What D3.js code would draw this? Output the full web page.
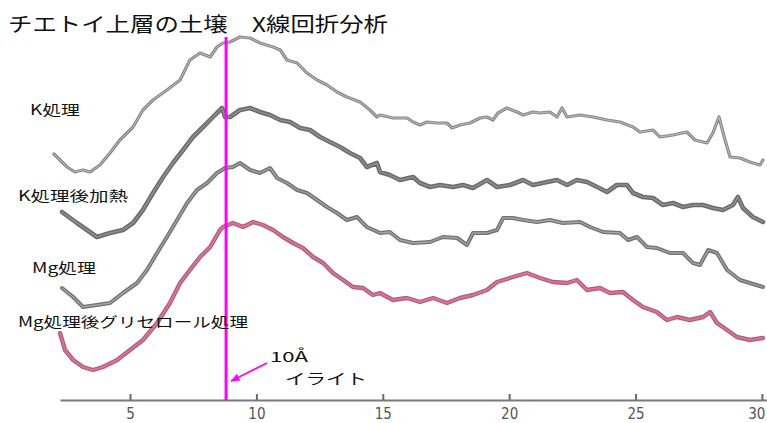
<!DOCTYPE html>
<html>
<head>
<meta charset="utf-8">
<script src="https://cdn.jsdelivr.net/npm/d3@7"></script>
<style>
  html, body { margin: 0; padding: 0; background: #fff; }
  svg { display: block; }
  .jp { font-family: "Noto Sans CJK JP", "Noto Sans", sans-serif; fill: #111; }
  .axis text { font-family: "DejaVu Sans Condensed", "Liberation Sans Narrow", "DejaVu Sans", sans-serif; font-stretch: condensed; font-size: 15px; fill: #555; }
</style>
</head>
<body>
<svg id="chart" width="767" height="423"></svg>
<script>
// X-ray diffraction patterns of the upper-layer soil, four pre-treatments.
// Each pattern: [2θ (deg, Cu Kα), intensity (arbitrary counts, stacked offset)]
const kTreated = [
  [1.99,246],[2.51,233],[2.82,228],[3.14,230],[3.42,228],[3.81,235],[4.21,247],[4.60,260],
  [5.12,273],[5.51,290],[5.91,300],[6.46,310],[6.98,320],[7.37,340],[7.77,347],[8.17,343],
  [8.44,353],[8.68,357],[8.96,358],[9.35,363],[9.75,362],[10.14,357],[10.66,353],[10.94,350],
  [11.21,340],[11.61,337],[12.00,327],[12.40,320],[12.79,315],[13.19,308],[13.58,303],[14.10,298],
  [14.49,290],[14.77,283],[14.89,285],[15.40,282],[15.96,282],[16.20,278],[16.47,275],[16.75,278],
  [17.14,277],[17.54,277],[17.74,272],[18.05,275],[18.45,277],[18.85,282],[19.12,283],[19.36,280],
  [19.56,287],[19.91,292],[20.31,288],[20.55,285],[20.94,288],[21.22,287],[21.61,288],[21.89,283],
  [22.09,292],[22.29,283],[22.80,285],[23.32,283],[23.87,280],[24.38,278],[24.90,273],[25.17,268],
  [25.69,270],[25.96,263],[26.48,265],[27.03,268],[27.35,260],[27.83,257],[28.06,267],[28.30,283],
  [28.54,260],[28.74,243],[29.13,242],[29.52,238],[29.92,235],[30.04,240]
];
const kHeated = [
  [2.31,188],[2.90,177],[3.30,170],[3.69,163],[4.21,167],[4.72,170],[5.12,177],[5.51,190],
  [5.91,207],[6.31,223],[6.70,237],[7.10,250],[7.49,263],[7.89,273],[8.28,283],[8.64,292],
  [8.76,283],[8.96,283],[9.35,290],[9.75,292],[10.14,288],[10.54,285],[10.94,280],[11.33,278],
  [11.73,272],[12.12,270],[12.52,263],[12.91,258],[13.31,253],[13.70,247],[14.10,242],[14.37,233],
  [14.77,237],[14.89,228],[15.28,225],[15.68,220],[16.20,223],[16.47,217],[16.87,213],[17.26,215],
  [17.78,213],[18.17,215],[18.57,212],[19.12,220],[19.52,213],[20.03,215],[20.55,220],[20.94,215],
  [21.50,218],[21.89,220],[22.29,215],[22.68,220],[23.08,218],[23.48,213],[23.87,208],[24.26,215],
  [24.66,215],[24.90,207],[25.29,203],[25.69,202],[26.08,195],[26.48,197],[26.88,193],[27.27,195],
  [27.67,195],[28.06,192],[28.46,190],[28.85,195],[29.05,203],[29.25,192],[29.64,183],[30.04,178]
];
const mgTreated = [
  [2.31,112],[2.75,103],[3.14,93],[3.69,95],[4.21,97],[4.72,107],[5.28,117],[5.67,130],
  [6.07,147],[6.46,163],[6.86,180],[7.26,197],[7.65,210],[8.05,217],[8.44,227],[8.76,232],
  [9.07,233],[9.35,237],[9.75,230],[10.14,227],[10.54,232],[10.82,222],[11.21,217],[11.61,210],
  [12.00,207],[12.40,200],[12.79,193],[13.19,187],[13.58,180],[13.98,183],[14.37,173],[14.89,167],
  [15.28,168],[15.68,160],[16.20,157],[16.87,158],[17.38,163],[17.94,162],[18.33,155],[18.57,167],
  [19.12,167],[19.52,170],[19.76,182],[20.15,182],[20.55,180],[21.10,178],[21.61,180],[22.13,177],
  [22.80,178],[23.20,173],[23.71,168],[24.38,167],[24.70,160],[25.06,163],[25.45,153],[25.84,152],
  [26.36,147],[26.88,147],[27.27,137],[27.55,135],[27.87,150],[28.22,147],[28.62,130],[29.13,120],
  [29.52,117],[30.04,113]
];
const mgGlycerol = [
  [2.23,67],[2.43,50],[2.75,40],[3.14,33],[3.54,30],[3.93,33],[4.49,40],[5.00,50],
  [5.51,60],[6.07,77],[6.58,97],[6.98,117],[7.37,130],[7.77,143],[8.17,153],[8.56,170],
  [8.68,173],[9.07,177],[9.47,173],[9.87,178],[10.26,175],[10.66,170],[11.05,163],[11.45,157],
  [11.84,152],[12.24,143],[12.64,137],[13.03,127],[13.43,120],[13.82,113],[14.22,112],[14.61,105],
  [14.89,107],[15.40,100],[15.96,102],[16.47,98],[16.99,102],[17.54,97],[18.05,102],[18.57,105],
  [19.12,110],[19.52,118],[20.15,123],[20.70,127],[21.22,122],[21.73,118],[22.29,117],[22.68,120],
  [23.08,110],[23.59,112],[23.99,107],[24.50,108],[24.90,100],[25.29,93],[25.84,88],[26.24,80],
  [26.64,83],[27.15,80],[27.67,83],[27.95,88],[28.22,77],[28.62,70],[29.01,63],[29.52,60],[30.04,62]
];

const seriesNames = ["K処理", "K処理後加熱", "Mg処理", "Mg処理後グリセロール処理"];
const tickValues = [5, 10, 15, 20, 25, 30];
const illiteTwoTheta = 8.8;          // 10 Å basal reflection
const illiteLabels = ["10Å", "イライト"];
const titleText = "チエトイ上層の土壌　X線回折分析";

const svg = d3.select("#chart");

const x = d3.scaleLinear().domain([2.23, 30.2]).range([60, 767]);
const y = d3.scaleLinear().domain([0, 370]).range([400, 30]);

const line = d3.line()
  .x(d => x(d[0]))
  .y(d => y(d[1]))
  .curve(d3.curveLinear);

// stroke styles: outer edge + lighter core, like a plotted trace
const styles = [
  { data: kTreated,   outer: "#888888", ow: 3.2, inner: "#bdbdbd", iw: 1.0 },
  { data: kHeated,    outer: "#6c6c6c", ow: 4.6, inner: "#8c8c8c", iw: 1.6 },
  { data: mgTreated,  outer: "#737373", ow: 4.0, inner: "#a4a4a4", iw: 1.3 },
  { data: mgGlycerol, outer: "#9a6a78", ow: 4.4, inner: "#e96a92", iw: 2.0 }
];

const traces = svg.append("g").attr("class", "traces");
styles.forEach(s => {
  traces.append("path").datum(s.data)
    .attr("d", line).attr("fill", "none")
    .attr("stroke", s.outer).attr("stroke-width", s.ow)
    .attr("stroke-linejoin", "round").attr("stroke-linecap", "round");
  traces.append("path").datum(s.data)
    .attr("d", line).attr("fill", "none")
    .attr("stroke", s.inner).attr("stroke-width", s.iw)
    .attr("stroke-linejoin", "round").attr("stroke-linecap", "round");
});

// axis along the bottom with ticks pointing up
const axis = d3.axisBottom(x)
  .tickValues(tickValues)
  .tickSizeInner(-6)
  .tickSizeOuter(0)
  .tickPadding(8)
  .tickFormat(d3.format("d"));

const axisG = svg.append("g").attr("class", "axis")
  .attr("transform", `translate(0,${y(0)})`)
  .call(axis);
axisG.select(".domain").attr("stroke", "#7a7a7a").attr("stroke-width", 2);
axisG.selectAll(".tick line").attr("stroke", "#6a6a6a").attr("stroke-width", 2);
// keep the last label inside the right edge
axisG.selectAll(".tick text")
  .filter(d => d === tickValues[tickValues.length - 1])
  .attr("text-anchor", "end").attr("dx", 3);

// 10 Å illite marker
svg.append("line")
  .attr("x1", x(illiteTwoTheta)).attr("x2", x(illiteTwoTheta))
  .attr("y1", 37).attr("y2", y(0))
  .attr("stroke", "#ff00ff").attr("stroke-width", 3);

svg.append("defs").append("marker")
  .attr("id", "arrowhead").attr("viewBox", "0 0 10 10")
  .attr("refX", 9).attr("refY", 5)
  .attr("markerWidth", 6).attr("markerHeight", 6)
  .attr("orient", "auto")
  .append("path").attr("d", "M0,1 L10,5 L0,9 Z").attr("fill", "#ff00ff");

svg.append("line")
  .attr("x1", 267).attr("y1", 363)
  .attr("x2", x(illiteTwoTheta) + 5).attr("y2", 381)
  .attr("stroke", "#ff00ff").attr("stroke-width", 1.6)
  .attr("marker-end", "url(#arrowhead)");

svg.append("text").attr("class", "jp")
  .attr("x", 270).attr("y", 356).attr("dominant-baseline", "central")
  .attr("font-size", 14).attr("textLength", 38).attr("lengthAdjust", "spacingAndGlyphs")
  .text(illiteLabels[0]);
svg.append("text").attr("class", "jp")
  .attr("x", 285).attr("y", 377).attr("dominant-baseline", "central")
  .attr("font-size", 15).attr("textLength", 82).attr("lengthAdjust", "spacingAndGlyphs")
  .text(illiteLabels[1]);

// title
svg.append("text").attr("class", "jp")
  .attr("x", 8).attr("y", 23).attr("dominant-baseline", "central")
  .attr("font-size", 20).attr("textLength", 380).attr("lengthAdjust", "spacingAndGlyphs")
  .text(titleText);

// series labels on the left
const labelPos = [
  { x: 30, y: 109, w: 50 },
  { x: 18, y: 195, w: 110 },
  { x: 32, y: 267, w: 64 },
  { x: 18, y: 321, w: 230 }
];
svg.append("g").selectAll("text")
  .data(seriesNames)
  .join("text")
  .attr("class", "jp")
  .attr("x", (d, i) => labelPos[i].x)
  .attr("y", (d, i) => labelPos[i].y)
  .attr("dominant-baseline", "central")
  .attr("font-size", 14)
  .attr("textLength", (d, i) => labelPos[i].w)
  .attr("lengthAdjust", "spacingAndGlyphs")
  .text(d => d);
</script>
</body>
</html>
